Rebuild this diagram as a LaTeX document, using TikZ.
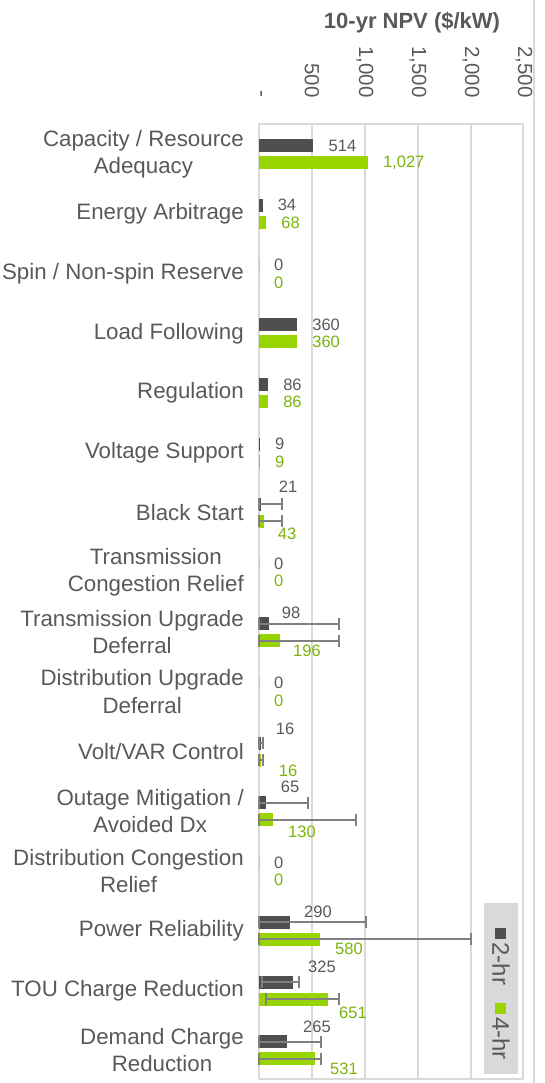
\documentclass[tikz,border=0pt]{standalone}
\usepackage{fontspec}
\setmainfont{Liberation Sans}
\definecolor{barDark}{HTML}{4F4F4F}
\definecolor{barGreen}{HTML}{98D500}
\definecolor{txtGray}{HTML}{595959}
\definecolor{txtGreen}{HTML}{7AB40A}
\definecolor{gridGray}{HTML}{D9D9D9}
\definecolor{errGray}{HTML}{808080}
\begin{document}
\begin{tikzpicture}[x=1pt,y=-1pt,line join=round,
	catlab/.style={anchor=east,align=center,inner sep=0pt,text=txtGray,font=\fontsize{22.3}{27.5}\selectfont},
	vallab/.style={inner sep=0pt,font=\fontsize{16.5}{19}\selectfont},
	ticklab/.style={rotate=-90,anchor=east,inner sep=0pt,text=txtGray,font=\fontsize{20.5}{24}\selectfont},
	errbar/.style={draw=errGray,line width=2pt}]
	\useasboundingbox (0,0) rectangle (544,1083);
	% grid, frame and border
	\foreach \v in {500,1000,1500,2000}
		\draw[gridGray,line width=2pt] ({259+0.106*\v},124) -- ({259+0.106*\v},1079);
	\draw[gridGray,line width=2pt] (259,124) -- (523,124) -- (523,1079) -- (259,1079) -- cycle;
	\draw[gridGray,line width=1.5pt] (534,0) -- (534,1083);
	% axis title and ticks
	\node[font=\bfseries\fontsize{22}{26}\selectfont,text=txtGray] (title) at (412,23) {10-yr NPV (\$/kW)};
	\foreach \v/\t in {0/-,500/500,1000/{1,000},1500/{1,500},2000/{2,000},2500/{2,500}}
		\node[ticklab] (tk\v) at ({259+0.106*\v},98) {\t};
	% bars
	\foreach \i/\d/\g in {0/514/1027,1/34/68,2/0/0,3/360/360,4/86/86,5/9/9,6/21/43,7/0/0,
		8/98/196,9/0/0,10/16/16,11/65/130,12/0/0,13/290/580,14/325/651,15/265/531}
	{
		\pgfmathsetmacro\yd{145.5+59.75*\i}
		\fill[barDark] (259,{\yd-6.5}) rectangle ({259+0.106*\d},{\yd+6.5});
		\fill[barGreen] (259,{\yd+10.5}) rectangle ({259+0.106*\g},{\yd+23.5});
	}
	% error bars
	\foreach \i/\dlo/\dhi/\glo/\ghi in {6/0/217/0/217,8/0/755/0/755,10/0/35/0/35,11/0/462/0/915,
		13/0/1009/0/2000,14/28/377/66/755,15/0/585/0/585}
	{
		\pgfmathsetmacro\yd{145.5+59.75*\i}
		\pgfmathsetmacro\yg{\yd+17}
		\draw[errbar] ({259+0.106*\dlo},{\yd-6}) -- ({259+0.106*\dlo},{\yd+6})
			({259+0.106*\dlo},\yd) -- ({259+0.106*\dhi},\yd)
			({259+0.106*\dhi},{\yd-6}) -- ({259+0.106*\dhi},{\yd+6});
		\draw[errbar] ({259+0.106*\glo},{\yg-6}) -- ({259+0.106*\glo},{\yg+6})
			({259+0.106*\glo},\yg) -- ({259+0.106*\ghi},\yg)
			({259+0.106*\ghi},{\yg-6}) -- ({259+0.106*\ghi},{\yg+6});
	}
	% value labels beside the bars
	\foreach \i/\d/\g/\dt/\gt in {0/514/1027/514/{1,027},1/34/68/34/68,2/0/0/0/0,3/360/360/360/360,
		4/86/86/86/86,5/9/9/9/9,7/0/0/0/0,9/0/0/0/0,12/0/0/0/0}
	{
		\node[vallab,anchor=west,text=txtGray] (dl\i) at ({274+0.106*\d},{145.5+59.75*\i}) {\dt};
		\node[vallab,anchor=west,text=txtGreen] (gl\i) at ({274+0.106*\g},{163+59.75*\i}) {\gt};
	}
	% value labels above and below the error bars
	\foreach \i/\xa/\ya/\ta/\xb/\yb/\tb in {6/288/487/21/287/534/43,8/291/613/98/307/651/196,
		10/285/729/16/288/771/16,11/290/787/65/302/832/130,13/318/912/290/349/949/580,
		14/322/967/325/353/1013/651,15/317/1027/265/344/1069/531}
	{
		\node[vallab,text=txtGray] (dl\i) at (\xa,\ya) {\ta};
		\node[vallab,text=txtGreen] (gl\i) at (\xb,\yb) {\tb};
	}
	% categories
	\foreach \i/\t in {0/{Capacity / Resource\\Adequacy},1/{Energy Arbitrage},2/{Spin / Non-spin Reserve},
		3/{Load Following},4/{Regulation},5/{Voltage Support},6/{Black Start},
		7/{Transmission\\Congestion Relief},8/{Transmission Upgrade\\Deferral},
		9/{Distribution Upgrade\\Deferral},10/{Volt/VAR Control},11/{Outage Mitigation /\\Avoided Dx},
		12/{Distribution Congestion\\Relief},13/{Power Reliability},14/{TOU Charge Reduction},
		15/{Demand Charge\\Reduction}}
		\node[catlab] (cat\i) at (244,{154+59.75*\i}) {\t};
	% legend
	\fill[gridGray] (484,903) rectangle (518,1074);
	\node[rotate=-90,inner sep=0pt,text=txtGray,font=\fontsize{24}{28}\selectfont] (legend) at (501,994)
		{{\color{barDark}\rule[3pt]{11pt}{11pt}}\hspace{3pt}2-hr\hspace{18pt}{\color{barGreen}\rule[3pt]{11pt}{11pt}}\hspace{3pt}4-hr};
\end{tikzpicture}
\end{document}
